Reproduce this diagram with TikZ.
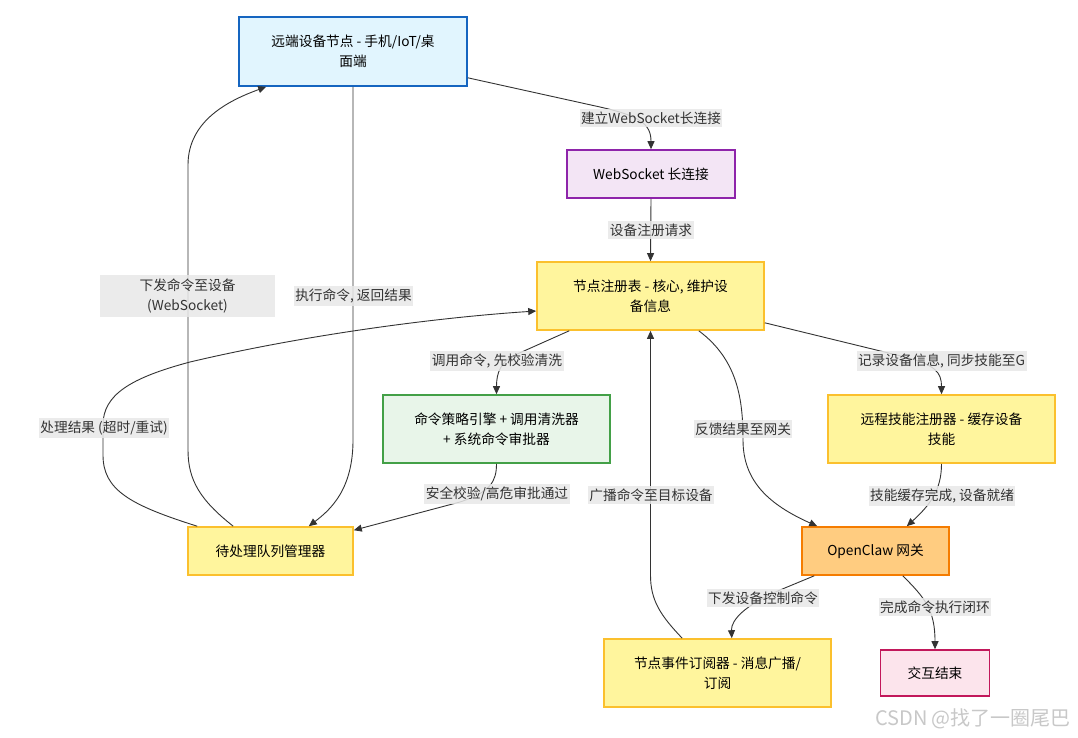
\documentclass[tikz,border=0pt]{standalone}
\usepackage{fontspec}
\setmainfont{Noto Sans CJK SC}
\usetikzlibrary{calc,arrows.meta}
\definecolor{blueF}{HTML}{E1F5FE}\definecolor{blueD}{HTML}{1565C0}
\definecolor{purF}{HTML}{F3E5F5}\definecolor{purD}{HTML}{8E24AA}
\definecolor{yelF}{HTML}{FFF59D}\definecolor{yelD}{HTML}{FBC02D}
\definecolor{grnF}{HTML}{E8F5E9}\definecolor{grnD}{HTML}{43A047}
\definecolor{orgF}{HTML}{FFCC80}\definecolor{orgD}{HTML}{F57C00}
\definecolor{pnkF}{HTML}{FCE4EC}\definecolor{pnkD}{HTML}{C2185B}
\definecolor{lblgray}{HTML}{E8E8E8}\definecolor{textgray}{HTML}{333333}
\definecolor{edgegray}{HTML}{333333}\definecolor{wmgray}{HTML}{C8C8C8}
\begin{document}
\begin{tikzpicture}[x=1pt,y=-1pt,
  nbox/.style={rectangle, line width=1.6pt, align=center, inner sep=0pt, text=black,
    font=\fontsize{13.7}{20}\selectfont},
  lbl/.style={fill=lblgray, fill opacity=0.85, text opacity=1, text=textgray, align=center,
    inner xsep=1.5pt, inner ysep=3pt, font=\fontsize{13.7}{20}\selectfont},
  conn/.style={draw=edgegray, line width=0.9pt, -{Triangle[length=8pt,width=7pt]}}]
\useasboundingbox[fill=white] (0,0) rectangle (1078,737);

% nodes
\node[nbox, fill=blueF, draw=blueD, minimum width=228, minimum height=69] (A) at (353,51.5) {远端设备节点 - 手机/IoT/桌\\面端};
\node[nbox, fill=purF, draw=purD, minimum width=168, minimum height=48] (B) at (651,174) {WebSocket 长连接};
\node[nbox, fill=yelF, draw=yelD, minimum width=227, minimum height=68] (C) at (650.5,296) {节点注册表 - 核心, 维护设\\备信息};
\node[nbox, fill=grnF, draw=grnD, minimum width=227, minimum height=68] (D) at (496.5,429) {命令策略引擎 + 调用清洗器\\+ 系统命令审批器};
\node[nbox, fill=yelF, draw=yelD, minimum width=165, minimum height=48] (E) at (270.5,551) {待处理队列管理器};
\node[nbox, fill=yelF, draw=yelD, minimum width=227, minimum height=68] (F) at (941.5,429) {远程技能注册器 - 缓存设备\\技能};
\node[nbox, fill=orgF, draw=orgD, minimum width=147, minimum height=48] (G) at (875.5,551) {OpenClaw 网关};
\node[nbox, fill=yelF, draw=yelD, minimum width=227, minimum height=68] (H) at (717.5,673) {节点事件订阅器 - 消息广播/\\订阅};
\node[nbox, fill=pnkF, draw=pnkD, minimum width=109, minimum height=46] (I) at (935,673) {交互结束};

% connectors
\draw[conn] ($(A.south east)+(0,-9)$) -- (600,107) .. controls (640,116) and (651,124) .. (B.north);
\draw[conn] (B.south) -- (C.north);
\draw[conn] ($(C.south west)+(33,0)$) -- (515,355) .. controls (501,362) and (496.5,372) .. (D.north);
\draw[conn] ($(C.south east)+(0,-8)$) -- (905,357) .. controls (935,365) and (941.5,372) .. (F.north);
\draw[conn] ($(C.south east)+(-66,0)$) .. controls (738,360) and (743,400) .. (743,440) .. controls (743,482) and (770,505) .. ($(G.north west)+(16,0)$);
\draw[conn] (D.south) .. controls (496.5,482) and (490,492) .. (460,502) -- ($(E.north east)+(0,4)$);
\draw[conn] (F.south) .. controls (941.5,490) and (930,505) .. ($(G.north east)+(-43,0)$);
\draw[conn] ($(G.south west)+(13,0)$) -- (780,590) .. controls (745,605) and (731,620) .. ($(H.north east)+(-100,0)$);
\draw[conn] ($(G.south east)+(-47,0)$) .. controls (925,598) and (935,610) .. (I.north);
\draw[conn] ($(H.north west)+(79,0)$) .. controls (660,615) and (650.5,600) .. (650.5,575) -- (C.south);
\draw[conn] ($(E.north west)+(46,0)$) .. controls (200,500) and (188,480) .. (188,450) -- (188,165) .. controls (188,120) and (230,100) .. ($(A.south west)+(28,0)$);
\draw[conn] (A.south) -- (353,440) .. controls (353,490) and (330,510) .. ($(E.north east)+(-45,0)$);
\draw[conn] ($(E.north west)+(10,0)$) .. controls (130,505) and (103,490) .. (103,455) -- (103,425) .. controls (103,395) and (130,378) .. (190,362) .. controls (300,336) and (430,318) .. ($(C.west)+(0,15)$);

% labels
\node[lbl] (l1) at (651,118) {建立WebSocket长连接};
\node[lbl] (l2) at (651,230) {设备注册请求};
\node[lbl] (l3) at (497,361) {调用命令, 先校验清洗};
\node[lbl] (l4) at (941.5,361) {记录设备信息, 同步技能至G};
\node[lbl] (l5) at (743,429) {反馈结果至网关};
\node[lbl] (l6) at (497,494) {安全校验/高危审批通过};
\node[lbl] (l7) at (942,496) {技能缓存完成, 设备就绪};
\node[lbl] (l8) at (763,598) {下发设备控制命令};
\node[lbl] (l9) at (935,607) {完成命令执行闭环};
\node[lbl] (l10) at (651,495) {广播命令至目标设备};
\node[lbl, minimum width=175, minimum height=42] (l11) at (187.5,296) {下发命令至设备\\(WebSocket)};
\node[lbl] (l12) at (353.5,296) {执行命令, 返回结果};
\node[lbl] (l13) at (104,428) {处理结果 (超时/重试)};

\node[text=wmgray, font=\fontsize{20}{22}\selectfont, inner sep=0pt] (wm) at (973,719) {CSDN @找了一圈尾巴};
\end{tikzpicture}
\end{document}
